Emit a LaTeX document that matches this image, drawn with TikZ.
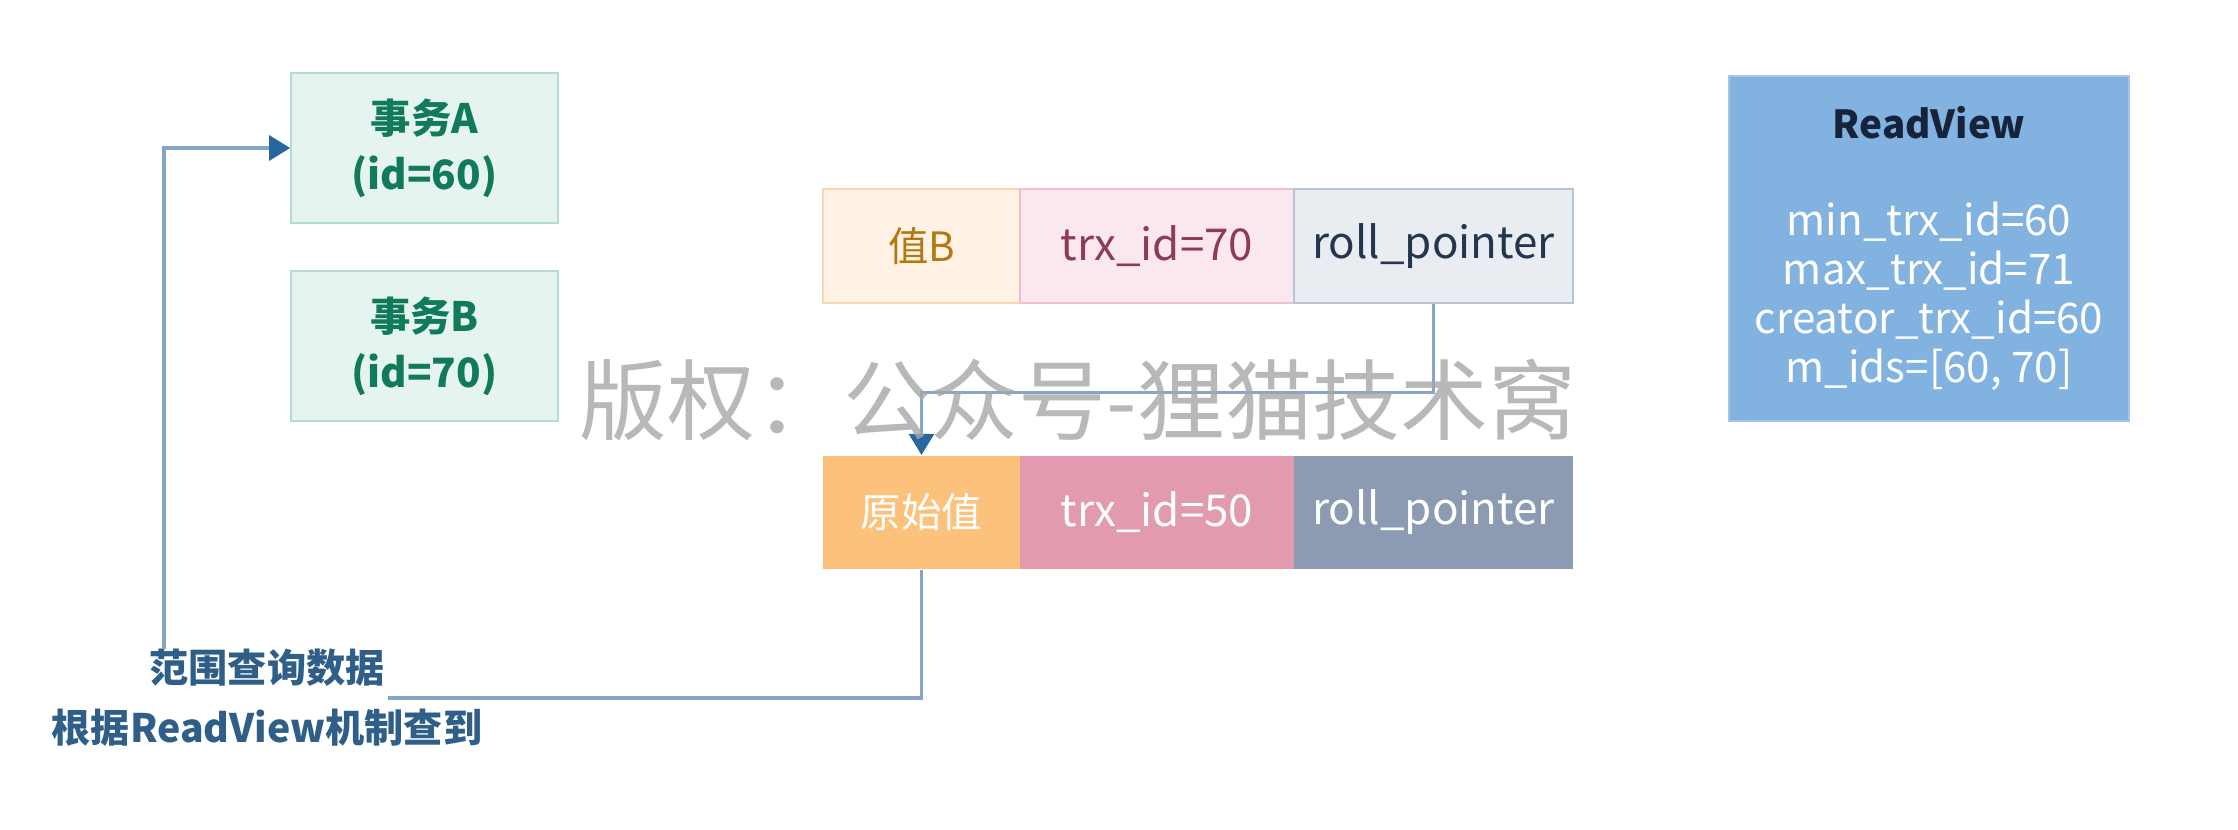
\documentclass[tikz,border=0pt]{standalone}
\usepackage{fontspec}
\setmainfont{Noto Sans CJK SC}
\usetikzlibrary{arrows.meta}
\definecolor{mintfill}{HTML}{E5F4EE}
\definecolor{mintdraw}{HTML}{B2DECB}
\definecolor{minttext}{HTML}{127A5C}
\definecolor{peachfill}{HTML}{FFF2E5}
\definecolor{peachdraw}{HTML}{F9D6AE}
\definecolor{peachtext}{HTML}{B07A10}
\definecolor{pinkfill}{HTML}{FBE8EE}
\definecolor{pinkdraw}{HTML}{EDC2CE}
\definecolor{pinktext}{HTML}{8E3B5A}
\definecolor{greyfill}{HTML}{E9ECF1}
\definecolor{greydraw}{HTML}{B9C3D1}
\definecolor{greytext}{HTML}{23364F}
\definecolor{orangefill}{HTML}{FCC27C}
\definecolor{rosefill}{HTML}{E29AAF}
\definecolor{slatefill}{HTML}{8C9BB1}
\definecolor{rvfill}{HTML}{82B2E0}
\definecolor{rvdraw}{HTML}{A5C6EA}
\definecolor{rvtitle}{HTML}{15243A}
\definecolor{linecol}{HTML}{86A6C7}
\definecolor{arrowcol}{HTML}{2A669E}
\definecolor{labelcol}{HTML}{2F5F88}
\tikzset{
  txbox/.style={draw=mintdraw,fill=mintfill,line width=1pt,minimum width=5.34cm,
    minimum height=3cm,align=center,text=minttext,
    font=\fontsize{23}{32}\selectfont\bfseries},
  cell/.style={line width=1pt,minimum height=2.27cm,inner sep=0pt,
    font=\fontsize{25}{28}\selectfont},
  cjkcell/.style={cell,font=\fontsize{23}{28}\selectfont},
  conn/.style={draw=linecol,line width=1.8pt},
  tip/.style={-{Triangle[length=0.42cm,width=0.5cm,color=arrowcol]}}
}

\begin{document}
\begin{tikzpicture}[x=0.02cm,y=-0.02cm]
\useasboundingbox (0,0) rectangle (2238,830);
\node[txbox] (txA) at (424.5,148) {事务A\\(id=60)};
\node[txbox] (txB) at (424.5,346) {事务B\\(id=70)};
\node[cjkcell,draw=peachdraw,fill=peachfill,text=peachtext,minimum width=3.94cm] (valB) at (921.5,246) {值B};
\node[cell,draw=pinkdraw,fill=pinkfill,text=pinktext,minimum width=5.48cm] (trxB) at (1157,246) {trx\_id=70};
\node[cell,draw=greydraw,fill=greyfill,text=greytext,minimum width=5.58cm] (rpB) at (1433.5,246) {roll\_pointer};
\node[cjkcell,fill=orangefill,text=white,minimum width=3.94cm] (orig) at (921.5,512.5) {原始值};
\node[cell,fill=rosefill,text=white,minimum width=5.48cm] (trxO) at (1157,512.5) {trx\_id=50};
\node[cell,fill=slatefill,text=white,minimum width=5.58cm] (rpO) at (1433.5,512.5) {roll\_pointer};
\node[draw=rvdraw,fill=rvfill,line width=1pt,minimum width=8cm,minimum height=6.9cm,
  align=center,text=white,font=\fontsize{24}{28}\selectfont] (rv) at (1929,248.5)
  {\textcolor{rvtitle}{\fontsize{22}{28}\selectfont\bfseries ReadView}\\[0.96cm]min\_trx\_id=60\\max\_trx\_id=71\\creator\_trx\_id=60\\m\_ids=[60, 70]};
\node[align=center,text=labelcol,font=\fontsize{22.3}{34}\selectfont\bfseries] (query) at (267,698)
  {范围查询数据\\根据ReadView机制查到};
\coordinate (qend) at (388,698);
\coordinate (qtop) at (164,649);
\draw[conn,tip] (rpB.south) -- ++(0,89) -| (orig.north);
\draw[conn] (orig.south) |- (qend);
\draw[conn,tip] (qtop) |- (txA.west);
\node[text=gray!70,opacity=0.8,font=\fontsize{50}{56}\selectfont] (mark) at (1078,400) {版权：公众号-狸猫技术窝};
\end{tikzpicture}
\end{document}
